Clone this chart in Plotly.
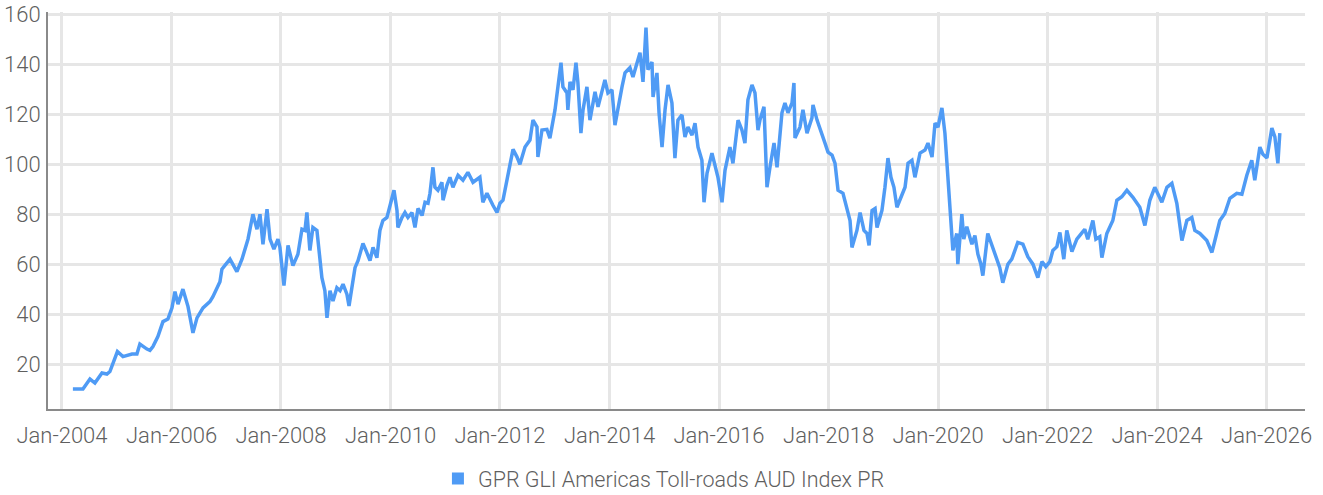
import plotly.graph_objects as go

series_name = "GPR GLI Americas Toll-roads AUD Index PR"

dates = [
    "2004-03-14", "2004-05-20", "2004-07-06", "2004-08-08", "2004-09-24", "2004-10-27", "2004-11-16",
    "2005-01-05", "2005-02-11", "2005-03-10", "2005-04-12", "2005-05-15", "2005-06-04", "2005-07-21",
    "2005-08-10", "2005-08-30", "2005-10-02", "2005-11-05", "2005-12-08", "2006-01-04", "2006-01-24",
    "2006-02-13", "2006-03-18", "2006-04-21", "2006-05-24", "2006-06-20", "2006-07-30", "2006-09-14",
    "2006-10-04", "2006-11-20", "2006-12-03", "2006-12-30", "2007-01-26", "2007-03-13", "2007-04-16",
    "2007-05-26", "2007-06-28", "2007-07-25", "2007-08-14", "2007-09-03", "2007-09-30", "2007-10-20",
    "2007-11-15", "2007-12-12", "2007-12-25", "2008-01-21", "2008-02-17", "2008-03-21", "2008-04-23",
    "2008-05-20", "2008-06-09", "2008-06-22", "2008-07-12", "2008-08-01", "2008-08-28", "2008-09-04",
    "2008-09-17", "2008-09-30", "2008-10-20", "2008-11-03", "2008-11-23", "2008-12-13", "2009-01-08",
    "2009-01-29", "2009-02-18", "2009-03-16", "2009-03-30", "2009-04-19", "2009-05-09", "2009-05-29",
    "2009-07-01", "2009-07-21", "2009-08-17", "2009-09-06", "2009-10-02", "2009-10-22", "2009-11-11",
    "2009-12-08", "2009-12-28", "2010-01-24", "2010-02-13", "2010-02-19", "2010-03-18", "2010-04-07",
    "2010-04-27", "2010-05-24", "2010-06-13", "2010-07-03", "2010-07-30", "2010-08-19", "2010-09-08",
    "2010-09-21", "2010-10-11", "2010-10-24", "2010-11-13", "2010-12-10", "2010-12-17", "2011-01-12",
    "2011-02-01", "2011-02-21", "2011-03-27", "2011-04-29", "2011-06-01", "2011-07-05", "2011-08-20",
    "2011-09-09", "2011-10-06", "2011-10-26", "2011-11-15", "2011-12-12", "2012-01-01", "2012-01-21",
    "2012-02-17", "2012-03-08", "2012-03-28", "2012-04-23", "2012-05-13", "2012-06-16", "2012-07-19",
    "2012-08-08", "2012-09-04", "2012-09-10", "2012-10-07", "2012-11-09", "2012-11-29", "2013-01-02",
    "2013-01-22", "2013-02-11", "2013-02-24", "2013-03-23", "2013-03-29", "2013-04-12", "2013-05-02",
    "2013-05-22", "2013-06-04", "2013-06-24", "2013-07-08", "2013-08-03", "2013-08-23", "2013-09-26",
    "2013-10-16", "2013-12-01", "2013-12-21", "2014-01-17", "2014-02-06", "2014-02-26", "2014-03-25",
    "2014-04-14", "2014-05-17", "2014-06-06", "2014-07-03", "2014-07-23", "2014-08-12", "2014-09-01",
    "2014-09-14", "2014-10-11", "2014-10-18", "2014-11-13", "2014-11-27", "2014-12-17", "2015-01-06",
    "2015-01-26", "2015-02-21", "2015-03-13", "2015-04-02", "2015-04-29", "2015-05-19", "2015-06-08",
    "2015-07-05", "2015-07-25", "2015-08-14", "2015-09-09", "2015-09-23", "2015-10-13", "2015-11-15",
    "2015-12-05", "2015-12-25", "2016-01-21", "2016-02-10", "2016-03-14", "2016-04-03", "2016-05-07",
    "2016-06-02", "2016-06-22", "2016-07-12", "2016-08-08", "2016-08-28", "2016-09-17", "2016-09-30",
    "2016-10-27", "2016-11-16", "2016-12-06", "2017-01-02", "2017-01-22", "2017-02-24", "2017-03-16",
    "2017-04-05", "2017-05-02", "2017-05-15", "2017-05-22", "2017-06-24", "2017-07-14", "2017-08-10",
    "2017-09-12", "2017-09-19", "2017-10-16", "2017-11-18", "2017-12-08", "2017-12-28", "2018-01-24",
    "2018-02-13", "2018-03-05", "2018-04-07", "2018-05-04", "2018-05-24", "2018-06-06", "2018-07-09",
    "2018-07-30", "2018-08-25", "2018-09-14", "2018-09-28", "2018-10-18", "2018-11-07", "2018-11-20",
    "2018-12-23", "2019-01-12", "2019-02-01", "2019-02-21", "2019-03-13", "2019-04-02", "2019-04-22",
    "2019-05-26", "2019-06-15", "2019-07-11", "2019-07-31", "2019-09-03", "2019-10-06", "2019-10-26",
    "2019-11-22", "2019-12-12", "2020-01-01", "2020-01-27", "2020-02-16", "2020-03-06", "2020-03-26",
    "2020-04-09", "2020-05-05", "2020-05-12", "2020-06-08", "2020-06-21", "2020-07-11", "2020-08-14",
    "2020-09-03", "2020-09-23", "2020-10-13", "2020-10-26", "2020-11-28", "2021-01-01", "2021-01-27",
    "2021-02-16", "2021-03-08", "2021-04-11", "2021-05-07", "2021-05-27", "2021-06-16", "2021-07-20",
    "2021-08-22", "2021-09-25", "2021-10-28", "2021-11-24", "2021-12-20", "2022-01-16", "2022-02-05",
    "2022-03-04", "2022-03-24", "2022-04-19", "2022-05-09", "2022-06-12", "2022-07-15", "2022-08-11",
    "2022-09-06", "2022-09-26", "2022-10-30", "2022-11-19", "2022-12-15", "2022-12-29", "2023-01-31",
    "2023-03-12", "2023-04-08", "2023-05-11", "2023-06-14", "2023-07-24", "2023-09-08", "2023-10-12",
    "2023-11-14", "2023-12-17", "2024-02-02", "2024-03-07", "2024-04-09", "2024-05-12", "2024-06-15",
    "2024-07-18", "2024-08-20", "2024-09-09", "2024-10-13", "2024-11-28", "2025-01-01", "2025-01-21",
    "2025-02-23", "2025-03-28", "2025-05-01", "2025-06-16", "2025-07-20", "2025-08-22", "2025-09-24",
    "2025-10-14", "2025-11-17", "2025-12-07", "2026-01-03", "2026-02-05", "2026-02-25", "2026-03-17",
    "2026-03-30",
]

values = [
    10, 10, 14, 12.4, 16.4, 16, 17,
    25, 23, 23.5, 24, 24, 28, 26,
    25.5, 27, 31, 37, 38, 42.5, 49,
    44, 50, 43, 32.5, 38.5, 42.5, 45,
    47, 53, 58, 60, 62, 57, 62,
    70, 80, 74, 80, 68, 82, 70,
    66, 70, 66.7, 51.4, 67.5, 59.4, 64,
    74, 73.5, 80.7, 65.5, 74.7, 73.5, 69.5,
    60, 54.6, 49.4, 38.5, 49.4, 45.3, 50.6,
    49.4, 52, 48, 43.3, 50.6, 58.6, 61.4,
    68.3, 65.5, 61.4, 66.7, 62.6, 73.5, 77.5,
    78.7, 83.6, 89.6, 81.5, 74.7, 78.7, 80.7,
    78.7, 80.7, 74.7, 82.3, 79.5, 84.8, 84.4,
    88.4, 98.8, 90.8, 89.6, 92.8, 85.6, 91.6,
    94.8, 90.8, 95.6, 93.6, 96.8, 92.8, 94.8,
    84.8, 88.4, 85.6, 83.6, 80.7, 84.4, 85.6,
    93.6, 100.4, 106, 103, 100, 106.9, 109.7,
    117.7, 114.9, 102.9, 113.7, 114, 110.5, 121.8,
    131, 140.7, 131, 128.6, 121.8, 133, 129.8,
    140.7, 132.6, 112.5, 121.8, 131, 117.7, 129,
    123, 133.8, 128.6, 129.8, 115.7, 123, 131,
    136.6, 138.7, 135, 140.7, 144.7, 133, 154.8,
    137.9, 141, 127, 136.6, 120.6, 106.9, 121.8,
    131.8, 124.6, 102.5, 117.7, 119.8, 110.9, 114.9,
    111.7, 116.5, 106.9, 101.6, 84.8, 96.4, 104.5,
    98.8, 94.8, 84.8, 97.6, 106.9, 100.4, 117.7,
    113.7, 108.5, 125.8, 131.8, 128.6, 113.7, 117.7,
    123, 90.8, 98.8, 108.5, 98.8, 120.6, 124.6,
    120.6, 124.6, 132.6, 110.5, 114.9, 121.8, 112.5,
    118.6, 123.8, 117.7, 112.5, 108.5, 104.9, 103.7,
    100.4, 89.6, 88.4, 81.5, 77.5, 66.7, 73.5,
    80.7, 73.5, 72.3, 67.5, 81.5, 82.3, 74.7,
    81.5, 90.8, 102.5, 94.8, 90.8, 82.8, 85.6,
    90.8, 100.4, 101.6, 94.8, 104.5, 105.7, 108.5,
    102.9, 116.5, 114.9, 122.6, 112.5, 96.4, 80.3,
    65.5, 72.3, 60, 80, 70, 75, 68,
    71.5, 64, 60, 55.4, 72.3, 66, 62,
    58.6, 52.6, 60, 62, 65.5, 68.7, 68,
    63, 60, 54.6, 61, 59, 61, 65.5,
    67, 72.7, 62, 73.5, 65, 70, 72,
    74, 70, 77.5, 70, 71, 62.6, 72.3,
    77.5, 85.6, 87, 89.6, 86.8, 82.8, 75.5,
    85.6, 90.8, 84.8, 90.8, 92.4, 84.4, 69.5,
    77.5, 78.7, 73.5, 72.3, 69.5, 64.7, 69.5,
    77.5, 80.3, 86.4, 88.4, 88, 95.6, 101.6,
    93.6, 106.9, 104, 102.5, 114.5, 111, 100.4,
    112.5,
]

y_ticks = [20, 40, 60, 80, 100, 120, 140, 160]
x_range = ["2003-09-30", "2026-09-14"]
y_range = [2, 161]

line_color = "#4f9bf5"
font_family = "Roboto, sans-serif"
text_color = "#5f5f5f"

fig = go.Figure()
fig.add_trace(go.Scatter(
    x=dates, y=values, mode="lines",
    line=dict(color=line_color, width=3.5),
    showlegend=False, hoverinfo="x+y",
))
fig.add_trace(go.Scatter(
    x=[None], y=[None], mode="markers", name=series_name,
    marker=dict(symbol="square", size=11, color=line_color),
    showlegend=True,
))

fig.update_layout(
    width=1323, height=495,
    margin=dict(l=48, r=18, t=12, b=86, autoexpand=False),
    paper_bgcolor="white", plot_bgcolor="white",
    font=dict(family=font_family, size=22, color=text_color, weight=300),
    legend=dict(orientation="h", x=0.49, xanchor="center",
                yref="container", y=0.0333, yanchor="middle",
                font=dict(family=font_family, size=21.5, color=text_color, weight=300),
                itemsizing="constant", itemwidth=30),
)
fig.update_xaxes(
    type="date", range=x_range, automargin=False,
    tick0="2004-01-01", dtick="M24", tickformat="%b-%Y",
    showgrid=True, gridcolor="#e6e6e6", gridwidth=3,
    showline=True, linecolor="#8a8a8a", linewidth=2,
    ticks="", ticklabelstandoff=6, zeroline=False,
    ticklabeloverflow="allow",
)
fig.update_yaxes(
    range=y_range, tickvals=y_ticks, automargin=False,
    showgrid=True, gridcolor="#e6e6e6", gridwidth=3,
    showline=True, linecolor="#8a8a8a", linewidth=2,
    ticks="", ticklabelstandoff=1, zeroline=False,
    ticklabeloverflow="allow",
)

# remove the default 8px page margin so the figure fills the window exactly
fig.write_html(
    "out.html",
    config={"displayModeBar": False},
    post_script="document.body.style.margin='0';",
)
